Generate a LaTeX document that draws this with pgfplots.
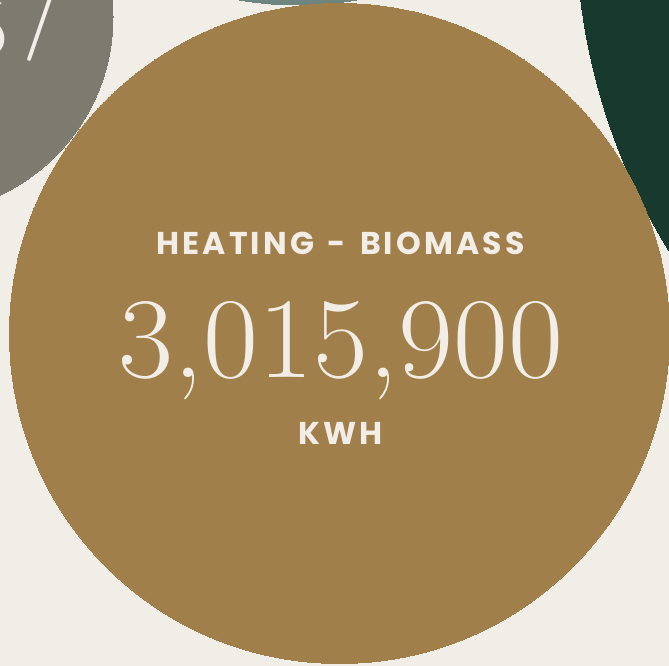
\documentclass[border=0pt]{standalone}
\usepackage{pgfplots}
\pgfplotsset{compat=1.18}
\usepackage{graphicx}
\usepackage{fontspec}
\newfontfamily\labfont[LetterSpace=10]{Poppins}
\definecolor{bgc}{HTML}{F1EDE7}
\definecolor{goldc}{HTML}{A07F4A}
\definecolor{grayc}{HTML}{7D7A70}
\definecolor{tealc}{HTML}{6E857F}
\definecolor{greenc}{HTML}{17392E}
\definecolor{txtc}{HTML}{F2EDE7}
\begin{document}
\begin{tikzpicture}
\useasboundingbox (0,0) rectangle (669pt,665pt);
\begin{axis}[
  at={(-300pt,-100pt)}, anchor=south west,
  width=2150pt, height=1500pt, scale only axis,
  xmin=-300, xmax=1850, ymin=-100, ymax=1400,
  axis lines=none, ticks=none,
  clip=true, clip marker paths=true,
  axis background/.style={fill=bgc},
]
% gray bubble
\addplot[only marks, mark=*, mark size=197pt, mark options={draw=grayc, fill=grayc, line width=0pt}] coordinates {(-84,648)};
% teal bubble
\addplot[only marks, mark=*, mark size=340pt, mark options={draw=tealc, fill=tealc, line width=0pt}] coordinates {(298,1000)};
% dark green bubble
\addplot[only marks, mark=*, mark size=627pt, mark options={draw=greenc, fill=greenc, line width=0pt}] coordinates {(1203,743)};
% gold bubble
\addplot[only marks, mark=*, mark size=330pt, mark options={draw=goldc, fill=goldc, line width=0pt}] coordinates {(339.5,331.5)};

\node[anchor=base east, inner sep=0pt, text=txtc, font=\fontsize{80}{80}\selectfont] at (axis cs:8,609) {5};
\node[anchor=base west, inner sep=0pt, text=txtc, font=\fontsize{112}{112}\selectfont] at (axis cs:22,631) {/};

\node[anchor=base, inner sep=0pt, text=txtc, font=\labfont\bfseries\fontsize{31.5}{31.5}\selectfont] at (axis cs:340.5,410) {HEATING\hspace{4pt} - \hspace{4pt}BIOMASS};
\node[anchor=base, inner sep=0pt, text=txtc] at (axis cs:341,288) {\scalebox{1.04}[1]{\fontsize{115}{115}\selectfont 3,015,900}};
\node[anchor=base, inner sep=0pt, text=txtc, font=\labfont\bfseries\fontsize{31.5}{31.5}\selectfont] at (axis cs:340.5,221) {KWH};
\end{axis}
\end{tikzpicture}
\end{document}
